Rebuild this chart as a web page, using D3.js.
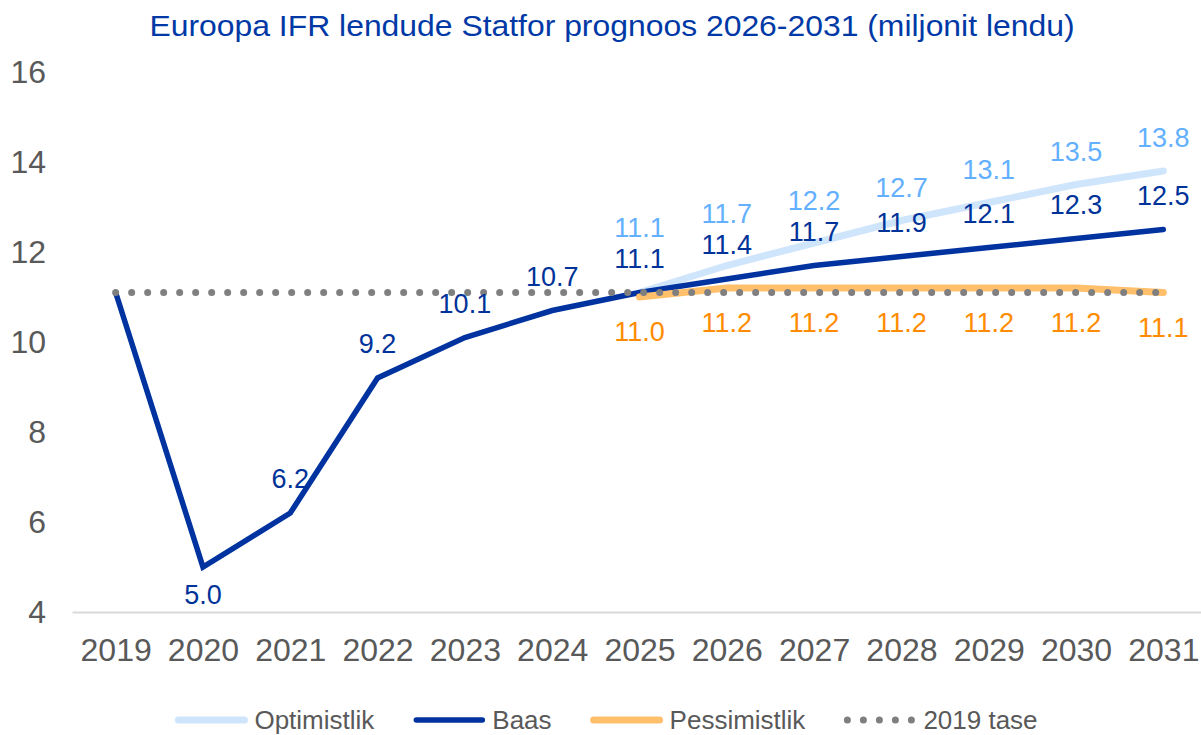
<!DOCTYPE html>
<html>
<head>
<meta charset="utf-8">
<script src="https://cdn.jsdelivr.net/npm/d3@7"></script>
<style>
  body { margin: 0; background: #fff; }
  svg { display: block; font-family: "Liberation Sans", Arial, sans-serif; }
</style>
</head>
<body>
<div id="chart"></div>
<script>
// data
var years = [2019, 2020, 2021, 2022, 2023, 2024, 2025, 2026, 2027, 2028, 2029, 2030, 2031];
var baas = [11.1, 5.0, 6.2, 9.2, 10.1, 10.7, 11.1, 11.4, 11.7, 11.9, 12.1, 12.3, 12.5];
var optimistlik = [null, null, null, null, null, null, 11.1, 11.7, 12.2, 12.7, 13.1, 13.5, 13.8];
var pessimistlik = [null, null, null, null, null, null, 11.0, 11.2, 11.2, 11.2, 11.2, 11.2, 11.1];
var tase2019 = [11.1, 11.1, 11.1, 11.1, 11.1, 11.1, 11.1, 11.1, 11.1, 11.1, 11.1, 11.1, 11.1];
var yTicks = [4, 6, 8, 10, 12, 14, 16];
var legendNames = ["Optimistlik", "Baas", "Pessimistlik", "2019 tase"];
var title = "Euroopa IFR lendude Statfor prognoos 2026-2031 (miljonit lendu)";

// size of the page
var width = 1201, height = 735;
var margin = {top: 72, right: -6, bottom: 123, left: 72};

var svg = d3.select("#chart")
  .append("svg")
    .attr("width", width)
    .attr("height", height);

// scales
var x = d3.scalePoint()
  .domain(years)
  .range([margin.left, width - margin.right])
  .padding(0.5);

var y = d3.scaleLinear()
  .domain([4, 16])
  .range([height - margin.bottom, margin.top]);

var fmt = d3.format(".1f");

// title
svg.append("text")
  .attr("x", 612)
  .attr("y", 36)
  .attr("text-anchor", "middle")
  .attr("font-size", 30)
  .attr("textLength", 925)
  .attr("lengthAdjust", "spacingAndGlyphs")
  .attr("fill", "#0039a6")
  .text(title);

// Y axis
var yAxis = svg.append("g")
  .attr("transform", "translate(" + margin.left + ",0)")
  .call(d3.axisLeft(y).tickValues(yTicks).tickSize(0).tickPadding(26));
yAxis.select(".domain").remove();
yAxis.selectAll("text")
  .attr("font-size", 32)
  .attr("font-family", "Liberation Sans, Arial, sans-serif")
  .attr("fill", "#595959");

// X axis
var xAxis = svg.append("g")
  .attr("transform", "translate(0," + y(4) + ")")
  .call(d3.axisBottom(x).tickSize(0).tickPadding(26));
xAxis.select(".domain")
  .attr("stroke", "#d9d9d9")
  .attr("stroke-width", 2);
xAxis.selectAll("text")
  .attr("font-size", 32)
  .attr("font-family", "Liberation Sans, Arial, sans-serif")
  .attr("fill", "#595959");

function rows(values) {
  return years.map(function(yr, i) { return {year: yr, value: values[i], i: i}; })
    .filter(function(d) { return d.value != null; });
}

var line = d3.line()
  .x(function(d) { return x(d.year); })
  .y(function(d) { return y(d.value); });

var series = [
  {name: "Optimistlik", rows: rows(optimistlik), color: "#cfe5fc", width: 7, dash: null},
  {name: "Baas", rows: rows(baas), color: "#0033a0", width: 5.5, dash: null},
  {name: "Pessimistlik", rows: rows(pessimistlik), color: "#ffbf6b", width: 7, dash: null},
  {name: "2019 tase", rows: rows(tase2019), color: "#7f7f7f", width: 7, dash: "0 16"}
];

// lines
svg.append("g")
  .selectAll("path")
  .data(series)
  .enter()
  .append("path")
    .attr("d", function(d) { return line(d.rows); })
    .attr("fill", "none")
    .attr("stroke", function(d) { return d.color; })
    .attr("stroke-width", function(d) { return d.width; })
    .attr("stroke-linecap", "round")
    .attr("stroke-linejoin", "miter")
    .attr("stroke-dasharray", function(d) { return d.dash; });

// Baas labels: above, below at the dip
var baasRows = rows(baas).filter(function(d) { return d.year > 2019; });
var baasLabelY = {};
baasRows.forEach(function(d) {
  var prev = baas[d.i - 1], next = baas[d.i + 1];
  var dip = prev != null && next != null && d.value < prev && d.value < next;
  baasLabelY[d.year] = dip ? y(d.value) + 37 : y(d.value) - 25;
});

var labels = svg.append("g")
  .attr("font-size", 27)
  .attr("text-anchor", "middle");

labels.selectAll(".baas")
  .data(baasRows)
  .enter()
  .append("text")
    .attr("x", function(d) { return x(d.year); })
    .attr("y", function(d) { return baasLabelY[d.year]; })
    .attr("fill", "#003399")
    .text(function(d) { return fmt(d.value); });

// Optimistlik labels: above, pushed up if they hit the Baas label
labels.selectAll(".opt")
  .data(rows(optimistlik))
  .enter()
  .append("text")
    .attr("x", function(d) { return x(d.year); })
    .attr("y", function(d) { return Math.min(y(d.value) - 24, baasLabelY[d.year] - 31); })
    .attr("fill", "#63b0ff")
    .text(function(d) { return fmt(d.value); });

// Pessimistlik labels: below
labels.selectAll(".pess")
  .data(rows(pessimistlik))
  .enter()
  .append("text")
    .attr("x", function(d) { return x(d.year); })
    .attr("y", function(d) { return y(d.value) + 44; })
    .attr("fill", "#ff8c00")
    .text(function(d) { return fmt(d.value); });

// legend
var legend = svg.append("g")
  .attr("transform", "translate(0,720)");

var item = legend.selectAll("g")
  .data(series)
  .enter()
  .append("g");

item.append("text")
  .attr("x", 78)
  .attr("dy", "0.35em")
  .attr("font-size", 26)
  .attr("fill", "#595959")
  .text(function(d, i) { return legendNames[i]; });

item.append("line")
  .attr("x1", 2)
  .attr("x2", 68)
  .attr("stroke", function(d) { return d.color; })
  .attr("stroke-width", function(d) { return d.width; })
  .attr("stroke-linecap", "round")
  .attr("stroke-dasharray", function(d) { return d.dash; });

// place items one after another, centred
var gap = 40, pos = 0, offsets = [];
item.each(function() {
  offsets.push(pos);
  pos += 78 + d3.select(this).select("text").node().getComputedTextLength() + gap;
});
var start = 607 - (pos - gap) / 2;
item.attr("transform", function(d, i) { return "translate(" + (start + offsets[i]) + ",0)"; });
</script>
</body>
</html>
